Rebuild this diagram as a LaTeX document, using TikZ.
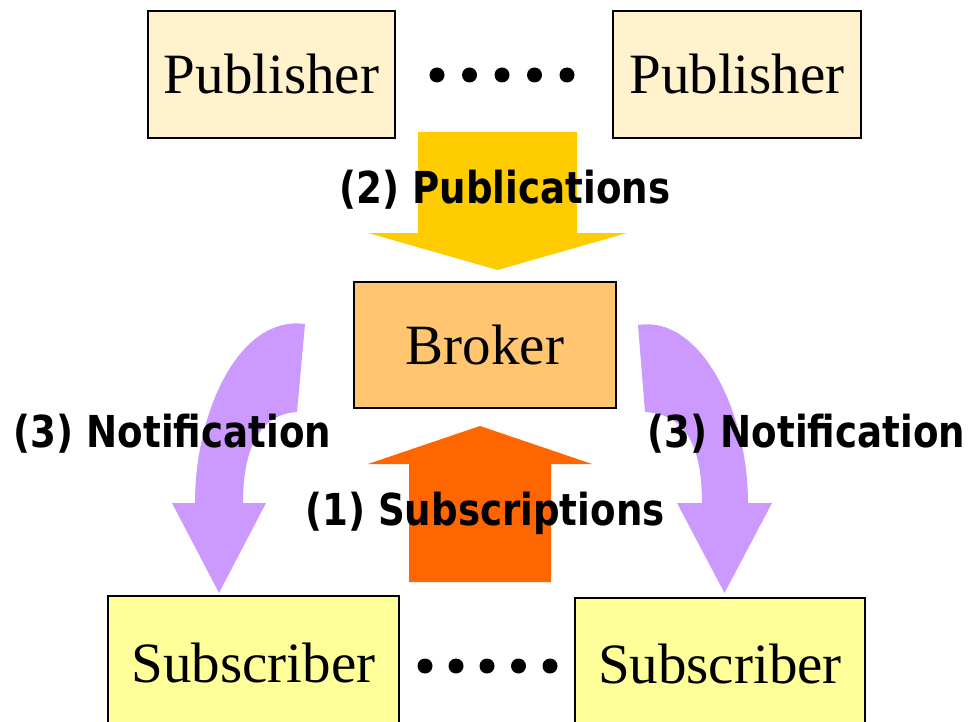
\documentclass[tikz,border=0pt]{standalone}
\usepackage{fontspec}
\setmainfont{Liberation Serif}
\newfontfamily\labfont[FakeStretch=0.845]{DejaVu Sans}
\definecolor{pubfill}{HTML}{FFF2CC}
\definecolor{brokerfill}{HTML}{FFC570}
\definecolor{subfill}{HTML}{FFFF99}
\definecolor{pubarrow}{HTML}{FFCC00}
\definecolor{subarrow}{HTML}{FF6600}
\definecolor{notarrow}{HTML}{CC99FF}
\tikzset{
  entity/.style={draw=black, line width=1.5pt, rectangle, inner sep=0pt,
    font=\fontsize{57}{60}\selectfont},
  steplabel/.style={anchor=base, inner sep=0pt,
    font=\labfont\bfseries\fontsize{44}{48}\selectfont},
  dotmark/.style={fill=black},
}
\begin{document}
\begin{tikzpicture}[x=1pt, y=-1pt]
\useasboundingbox (0,0) rectangle (971,722);
\clip (0,0) rectangle (971,722);

% participants
\node[entity, fill=pubfill, minimum width=247pt, minimum height=127pt]
  (pubL) at (271.5,74.5) {\raisebox{-3pt}{Publisher}};
\node[entity, fill=pubfill, minimum width=248pt, minimum height=127pt]
  (pubR) at (737,74.5) {\raisebox{-3pt}{Publisher}};
\node[entity, fill=brokerfill, minimum width=262pt, minimum height=126pt]
  (broker) at (485,345) {\raisebox{-2.5pt}{Broker}};
\node[entity, fill=subfill, minimum width=291pt, minimum height=133pt]
  (subL) at (253.5,662.5) {Subscriber};
\node[entity, fill=subfill, minimum width=290pt, minimum height=131pt]
  (subR) at (720,663.5) {Subscriber};

% ellipses between the participants
\foreach \x in {437,469.5,502,534.5,567}
  \fill[dotmark] (\x,75) circle (7.5pt);
\foreach \x in {425,456,487,518.5,550}
  \fill[dotmark] (\x,666) circle (7.5pt);

% (2) publications: publishers -> broker
\fill[pubarrow] (418,132) -- (577,132) -- (577,233) -- (627,233)
  -- (497.5,270) -- (368,233) -- (418,233) -- cycle;

% (1) subscriptions: subscribers -> broker
\fill[subarrow] (409,582) -- (409,464) -- (368,464) -- (480,426)
  -- (592,464) -- (551,464) -- (551,582) -- cycle;

% (3) notifications: broker -> subscribers (curved block arrows)
\fill[notarrow] (305,324) .. controls (240,315) and (195,410) .. (195,503)
  -- (172,503) -- (219,593) -- (266,503) -- (243,503)
  .. controls (243,445) and (262,414) .. (297,412) -- cycle;
\fill[notarrow] (638,325) .. controls (700,315) and (748,410) .. (748,503)
  -- (772,503) -- (724.5,593) -- (677,503) -- (702,503)
  .. controls (702,445) and (685,414) .. (645,412) -- cycle;

% step labels
\node[steplabel] (lblPub) at (505,204) {(2) Publications};
\node[steplabel] (lblSub) at (485,525) {(1) Subscriptions};
\node[steplabel] (lblNotL) at (172.5,447) {(3) Notification};
\node[steplabel] (lblNotR) at (806.5,447) {(3) Notification};
\end{tikzpicture}
\end{document}
